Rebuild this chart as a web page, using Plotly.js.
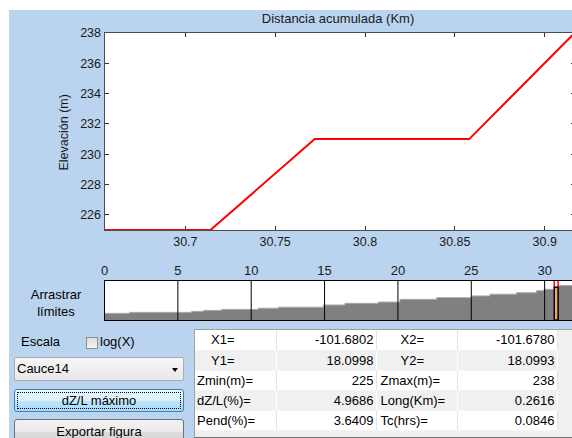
<!DOCTYPE html>
<html><head><meta charset="utf-8">
<script src="https://cdn.plot.ly/plotly-3.0.1.min.js"></script>
<style>
html,body{margin:0;padding:0;width:572px;height:438px;overflow:hidden;background:#fff;font-family:"Liberation Sans",Arial,sans-serif;color:#000;}
#bg{position:absolute;left:9px;top:10px;width:563px;height:428px;background:#bad4f0;}
#plot{position:absolute;left:0;top:0;width:580px;height:438px;}
.t{position:absolute;font-size:13px;white-space:nowrap;}
#chk{position:absolute;left:86px;top:337px;width:10px;height:10px;border:1px solid #8e8f8f;background:linear-gradient(#dcdcdc,#f6f6f6);}
#dd{position:absolute;left:14px;top:357px;width:168px;height:22px;border:1px solid #acacac;border-radius:2px;background:linear-gradient(#f6f6f6,#e8e8e8);box-sizing:content-box;}
#dd .arr{position:absolute;left:157px;top:10px;width:0;height:0;border-left:3.5px solid transparent;border-right:3.5px solid transparent;border-top:4px solid #000;}
#b1{position:absolute;left:14px;top:389px;width:168px;height:21px;border:1px solid #3c7fb1;border-radius:3px;background:linear-gradient(#eaf6fd 0%,#d9f0fc 50%,#bee6fd 51%,#a7d9f5 100%);}
#b1 .f{position:absolute;left:2px;top:2px;right:2px;bottom:2px;border:1px dotted #000;}
#b2{position:absolute;left:14px;top:419px;width:168px;height:24px;border:1px solid #707070;border-radius:3px;background:linear-gradient(#f2f2f2 0%,#ebebeb 50%,#dddddd 51%,#cfcfcf 100%);}
#panel{position:absolute;left:194px;top:329px;width:378px;height:109px;background:#f0f0f0;border-top:1px solid #a0a0a0;border-left:1px solid #a0a0a0;border-bottom:1px solid #707070;box-sizing:border-box;}
#tbl{position:absolute;left:0;top:0;border-collapse:collapse;font-size:13px;}
#tbl td{height:20px;padding:0;box-sizing:border-box;border-right:1px solid #e4e4e4;border-bottom:1px solid #f4f4f4;white-space:nowrap;}
#tbl tr.w td{background:#fff;}
#tbl tr.g td{background:#f0f0f0;border-right:1px solid #fff;}
</style></head><body>
<div id="bg"></div>
<div id="plot"></div>
<div class="t" style="left:20px;top:287px;width:72px;text-align:center;line-height:16.5px">Arrastrar<br>límites</div>
<div class="t" style="left:21px;top:334px;">Escala</div>
<div id="chk"></div>
<div class="t" style="left:100px;top:334px;">log(X)</div>
<div id="dd"><div class="t" style="left:2px;top:3px;">Cauce14</div><div class="arr"></div></div>
<div id="b1"><div class="f"></div><div class="t" style="left:0;width:168px;text-align:center;top:3px;">dZ/L máximo</div></div>
<div id="b2"><div class="t" style="left:0;width:168px;text-align:center;top:4px;">Exportar figura</div></div>
<div id="panel"><table id="tbl"></table></div>
<script>
// main profile (Distancia acumulada km vs Elevación m)
var mainKm   = [30.655, 30.714, 30.772, 30.858, 30.9166];
var mainElev = [225, 225, 231, 231, 238];
var mainXTicks = [30.7, 30.75, 30.8, 30.85, 30.9];
var mainXTickText = ["30.7", "30.75", "30.8", "30.85", "30.9"];
var mainYTicks = [226, 228, 230, 232, 234, 236, 238];
var mainXRange = [30.655, 30.9166];
var mainYRange = [225, 238];

// overview profile (whole river)
var profileKm   = [0, 1.70, 5.94, 6.73, 7.98, 10.48, 11.84, 14.91, 16.39, 18.66, 20.14, 22.64, 25.02, 26.27, 28.09, 29.45, 29.95, 30.655, 30.917, 33];
var profileElev = [127, 131, 135, 139, 143, 148, 152, 161, 168, 173, 184, 191, 198, 205, 211, 219, 225, 232, 240, 240];
var miniTicks = [0, 5, 10, 15, 20, 25, 30];
var miniXRange = [0, 32.41];
var miniYRange = [100, 260];
var selRange = [30.655, 30.917];
var selLevel = 233;

// table values
var tblLabA = ["X1=", "Y1=", "Zmin(m)=", "dZ/L(%)=", "Pend(%)="];
var tblValA = ["-101.6802", "18.0998", "225", "4.9686", "3.6409"];
var tblLabB = ["X2=", "Y2=", "Zmax(m)=", "Long(Km)=", "Tc(hrs)="];
var tblValB = ["-101.6780", "18.0993", "238", "0.2616", "0.0846"];
var indentA = [16, 16, 2, 2, 2];
var indentB = [24, 24, 4, 4, 4];

var tbl = document.getElementById('tbl');
for (var i = 0; i < tblLabA.length; i++) {
  var tr = document.createElement('tr');
  tr.className = (i % 2 === 0) ? 'w' : 'g';
  var cells = [[tblLabA[i], 81, 'left', indentA[i]], [tblValA[i], 100, 'right', 2], [tblLabB[i], 81, 'left', indentB[i]], [tblValB[i], 100, 'right', 2]];
  cells.forEach(function (c) {
    var td = document.createElement('td');
    td.textContent = c[0];
    td.style.width = c[1] + 'px';
    td.style.minWidth = c[1] + 'px';
    td.style.textAlign = c[2];
    if (c[2] === 'left') td.style.paddingLeft = c[3] + 'px'; else td.style.paddingRight = c[3] + 'px';
    tr.appendChild(td);
  });
  tbl.appendChild(tr);
}

var W = 580, H = 438;
var FONT = '"Liberation Sans", Arial, sans-serif';
var traces = [
  {x: mainKm, y: mainElev, xaxis: 'x', yaxis: 'y', type: 'scatter', mode: 'lines',
   line: {color: '#ff0000', width: 2}, hoverinfo: 'skip'},
  {x: profileKm, y: profileElev, xaxis: 'x2', yaxis: 'y2', type: 'scatter', mode: 'lines',
   line: {color: '#a8a8a8', width: 1, shape: 'hv'}, fill: 'tozeroy', fillcolor: '#808080', hoverinfo: 'skip'}
];

var shapes = miniTicks.map(function (t) {
  return {type: 'line', xref: 'x2', yref: 'y2 domain', x0: t, x1: t, y0: 0, y1: 1,
          line: {color: '#000', width: 1}, layer: 'above'};
});
shapes.push({type: 'line', xref: 'x2', yref: 'y2', x0: selRange[0], x1: selRange[0], y0: selLevel, y1: miniYRange[1], line: {color: '#ff0000', width: 1.5}});
shapes.push({type: 'line', xref: 'x2', yref: 'y2', x0: selRange[1], x1: selRange[1], y0: selLevel, y1: miniYRange[1], line: {color: '#ff0000', width: 1.5}});
shapes.push({type: 'rect', xref: 'x2', yref: 'y2', x0: selRange[0], x1: selRange[1], y0: miniYRange[0], y1: selLevel,
             line: {color: '#000', width: 1.5}, fillcolor: '#f0a860'});

var axisCommon = {showgrid: false, zeroline: false, showline: true, linecolor: '#4d4d4d', linewidth: 1,
                  ticks: 'inside', ticklen: 4, tickcolor: '#333', tickwidth: 1, mirror: 'ticks',
                  tickfont: {family: FONT, size: 12.5, color: '#1a1a1a'}, fixedrange: true};

var layout = {
  width: W, height: H,
  margin: {l: 0, r: 0, t: 0, b: 0},
  paper_bgcolor: 'rgba(0,0,0,0)', plot_bgcolor: '#ffffff',
  showlegend: false,
  font: {family: FONT, size: 12, color: '#1a1a1a'},
  title: {text: 'Distancia acumulada (Km)', font: {family: FONT, size: 13, color: '#1a1a1a'},
          x: 338 / W, xref: 'paper', y: 1 - 18 / H, yref: 'paper', xanchor: 'center', yanchor: 'middle'},
  xaxis: Object.assign({}, axisCommon, {domain: [104.5 / W, 574.5 / W], range: mainXRange,
          tickmode: 'array', tickvals: mainXTicks, ticktext: mainXTickText, anchor: 'y'}),
  yaxis: Object.assign({}, axisCommon, {domain: [(H - 230) / H, (H - 33) / H], range: mainYRange,
          tickmode: 'array', tickvals: mainYTicks, anchor: 'x'}),
  xaxis2: {domain: [104.5 / W, 1], range: miniXRange, side: 'top', anchor: 'y2',
           tickmode: 'array', tickvals: miniTicks, ticks: '', showgrid: false, zeroline: false,
           showline: true, linecolor: '#000', linewidth: 1, mirror: true,
           tickfont: {family: FONT, size: 13, color: '#1a1a1a'}, fixedrange: true},
  yaxis2: {domain: [(H - 320) / H, (H - 280.7) / H], range: miniYRange, anchor: 'x2',
           showticklabels: false, ticks: '', showgrid: false, zeroline: false,
           showline: true, linecolor: '#000', linewidth: 1, mirror: true, fixedrange: true},
  shapes: shapes,
  annotations: [{text: 'Elevación (m)', xref: 'paper', yref: 'paper', x: 63 / W, y: (H - 132.5) / H,
                 xanchor: 'center', yanchor: 'middle', textangle: -90, showarrow: false,
                 font: {family: FONT, size: 12.5, color: '#1a1a1a'}}]
};

Plotly.newPlot('plot', traces, layout, {displayModeBar: false, staticPlot: true});
</script>
</body></html>
